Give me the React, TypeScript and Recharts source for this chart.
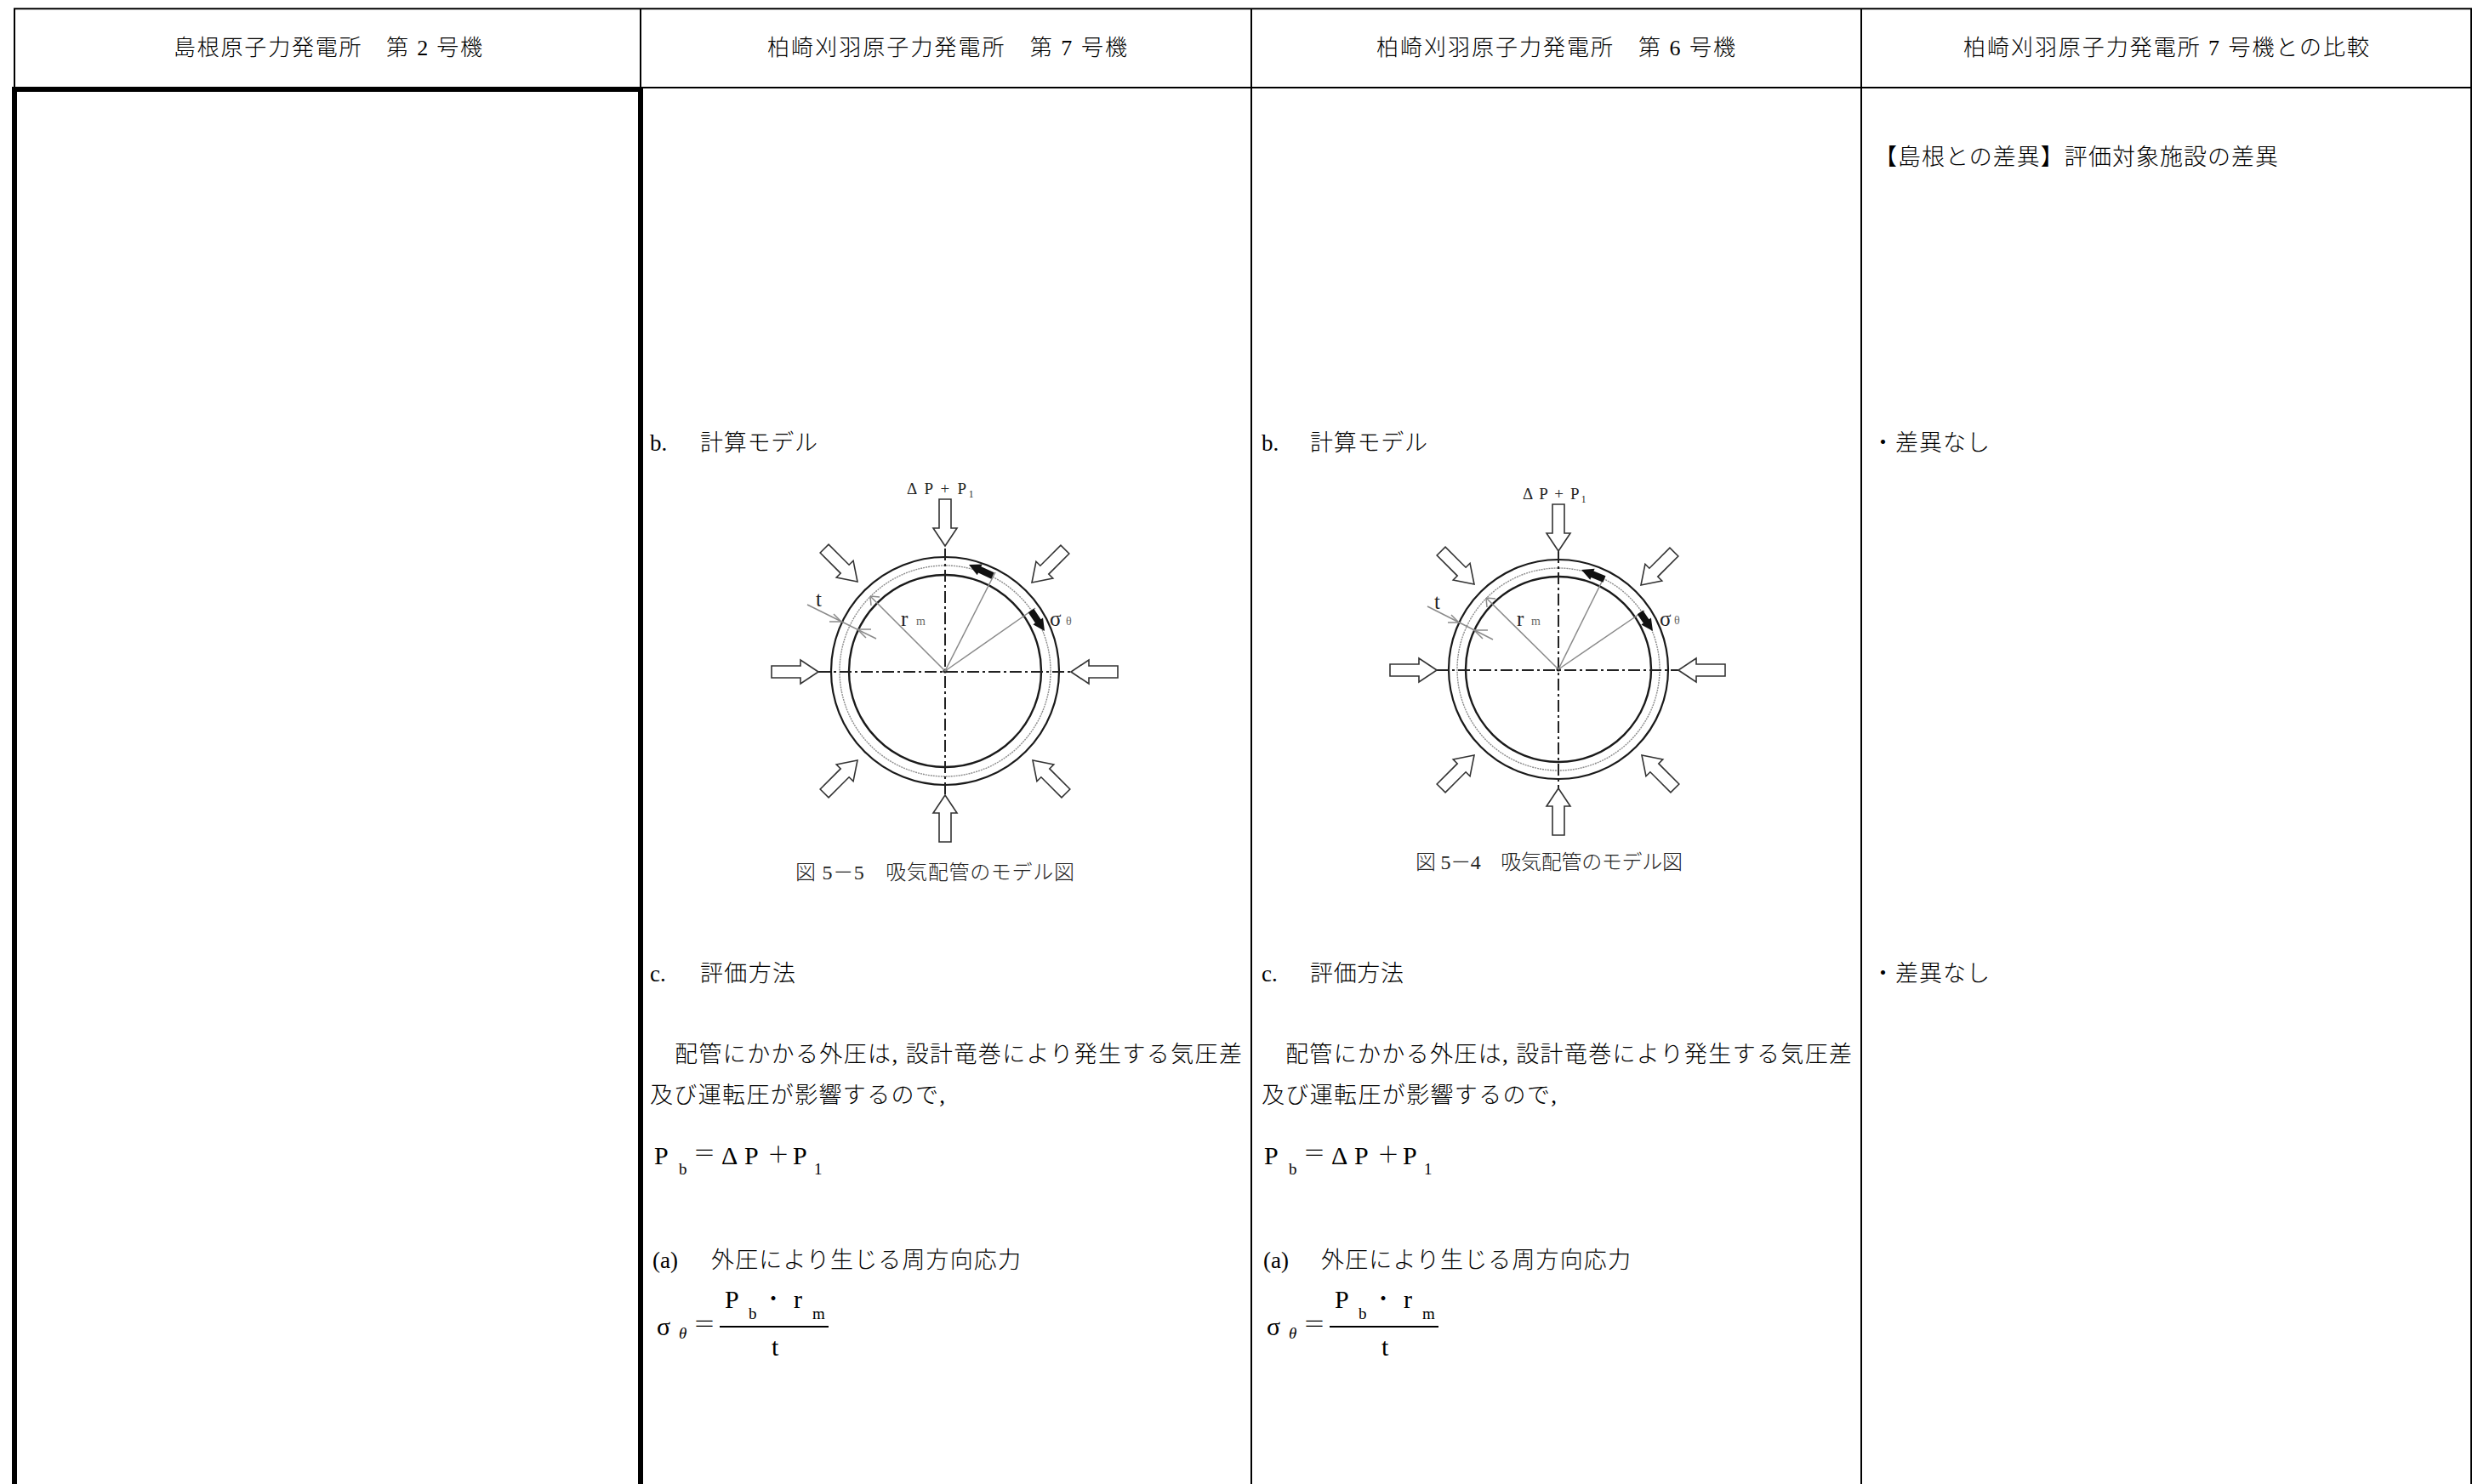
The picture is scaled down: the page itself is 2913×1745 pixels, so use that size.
import { ScatterChart, Scatter, XAxis, YAxis } from 'recharts';

const PAGE_W = 2913;
const PAGE_H = 1745;
const SERIF = '"Liberation Serif", "Noto Sans CJK JP", serif';

type Pt = { x: number; y: number };
type Label = Pt & { x2?: number; text: string };

// table rules, page coordinates
const tableRules: Pt[][] = [
  [{ x: 16, y: 10.3 }, { x: 2906, y: 10.3 }],
  [{ x: 17, y: 103 }, { x: 2905, y: 103 }],
  [{ x: 17, y: 10 }, { x: 17, y: 1745 }],
  [{ x: 753, y: 10 }, { x: 753, y: 1745 }],
  [{ x: 1471, y: 10 }, { x: 1471, y: 1745 }],
  [{ x: 2188, y: 10 }, { x: 2188, y: 1745 }],
  [{ x: 2905, y: 10 }, { x: 2905, y: 1745 }],
];
const heavyFrame: Pt[][] = [
  [{ x: 17, y: 1745 }, { x: 17, y: 105 }, { x: 753, y: 105 }, { x: 753, y: 1745 }],
];

const headerLabels: Label[] = [
  { x: 204, x2: 567, y: 56, text: '島根原子力発電所　第 2 号機' },
  { x: 902, x2: 1325, y: 56, text: '柏崎刈羽原子力発電所　第 7 号機' },
  { x: 1618, x2: 2040, y: 56, text: '柏崎刈羽原子力発電所　第 6 号機' },
  { x: 2308, x2: 2785, y: 56, text: '柏崎刈羽原子力発電所 7 号機との比較' },
];

const bodyLabels: Label[] = [
  { x: 2203, x2: 2678, y: 185, text: '【島根との差異】評価対象施設の差異' },
  { x: 2200, x2: 2339, y: 521, text: '・差異なし' },
  { x: 2200, x2: 2339, y: 1145, text: '・差異なし' },
  { x: 764, y: 521, text: 'b.' },
  { x: 823, x2: 961, y: 521, text: '計算モデル' },
  { x: 1483, y: 521, text: 'b.' },
  { x: 1540, x2: 1678, y: 521, text: '計算モデル' },
  { x: 764, y: 1145, text: 'c.' },
  { x: 823, x2: 935, y: 1145, text: '評価方法' },
  { x: 1483, y: 1145, text: 'c.' },
  { x: 1540, x2: 1650, y: 1145, text: '評価方法' },
  { x: 793, x2: 1460, y: 1240, text: '配管にかかる外圧は, 設計竜巻により発生する気圧差' },
  { x: 1511, x2: 2177, y: 1240, text: '配管にかかる外圧は, 設計竜巻により発生する気圧差' },
  { x: 764, x2: 1111, y: 1288, text: '及び運転圧が影響するので,' },
  { x: 1483, x2: 1830, y: 1288, text: '及び運転圧が影響するので,' },
  { x: 767, y: 1482, text: '(a)' },
  { x: 836, x2: 1200, y: 1482, text: '外圧により生じる周方向応力' },
  { x: 1485, y: 1482, text: '(a)' },
  { x: 1553, x2: 1917, y: 1482, text: '外圧により生じる周方向応力' },
];

// formulas, left copy; the right column repeats them shifted
const formulaMain: Label[] = [
  { x: 769, y: 1358, text: 'P' },
  { x: 848, y: 1358, text: 'Δ' },
  { x: 875, y: 1358, text: 'P' },
  { x: 932, y: 1358, text: 'P' },
  { x: 772, y: 1559, text: 'σ' },
  { x: 852, y: 1527, text: 'P' },
  { x: 933, y: 1527, text: 'r' },
  { x: 907, y: 1583, text: 't' },
];
const formulaSigns: Label[] = [
  { x: 815, y: 1356, text: '＝' },
  { x: 902, y: 1358, text: '＋' },
  { x: 815, y: 1557, text: '＝' },
  { x: 896, y: 1527, text: '・' },
];
const formulaSub: Label[] = [
  { x: 798, y: 1374, text: 'b' },
  { x: 957, y: 1374, text: '1' },
  { x: 880, y: 1544, text: 'b' },
  { x: 955, y: 1544, text: 'm' },
];
const formulaTheta: Label[] = [{ x: 798, y: 1567, text: 'θ' }];
const fractionBar: Pt[] = [{ x: 846, y: 1560 }, { x: 974, y: 1560 }];
const COL_SHIFT = 717;

// model figures
const ringsA = [
  { x: 1111, y: 789, outer: 134, mid: 124, inner: 113 },
];
const ringsB = [
  { x: 1832, y: 787, outer: 129, mid: 119, inner: 109 },
];

const pressureArrowsA = [
  { x: 1111, y: 642, angle: 90 },
  { x: 1111, y: 935, angle: -90 },
  { x: 962, y: 790, angle: 0 },
  { x: 1259, y: 790, angle: 180 },
  { x: 1008, y: 684, angle: 45 },
  { x: 1213, y: 685, angle: 135 },
  { x: 1008, y: 894, angle: -45 },
  { x: 1214, y: 894, angle: -135 },
];
const pressureArrowsB = [
  { x: 1832, y: 648, angle: 90 },
  { x: 1832, y: 927, angle: -90 },
  { x: 1689, y: 788, angle: 0 },
  { x: 1973, y: 788, angle: 180 },
  { x: 1733, y: 687, angle: 45 },
  { x: 1929, y: 688, angle: 135 },
  { x: 1733, y: 888, angle: -45 },
  { x: 1930, y: 888, angle: -135 },
];

const centerLinesA: Pt[][] = [
  [{ x: 962, y: 790 }, { x: 1259, y: 790 }],
  [{ x: 1111, y: 645 }, { x: 1111, y: 935 }],
];
const centerLinesB: Pt[][] = [
  [{ x: 1689, y: 788 }, { x: 1973, y: 788 }],
  [{ x: 1832, y: 648 }, { x: 1832, y: 927 }],
];

const thinLinesA: Pt[][] = [
  [{ x: 1111, y: 789 }, { x: 1023, y: 701 }],
  [{ x: 1023, y: 701 }, { x: 1024, y: 712 }],
  [{ x: 1023, y: 701 }, { x: 1034, y: 702 }],
  [{ x: 1111, y: 789 }, { x: 1170, y: 673 }],
  [{ x: 1111, y: 789 }, { x: 1217, y: 715 }],
  [{ x: 949, y: 711 }, { x: 1030, y: 751 }],
  [{ x: 975, y: 731 }, { x: 989, y: 731 }],
  [{ x: 1008, y: 740 }, { x: 1024, y: 740 }],
  [{ x: 980, y: 722 }, { x: 989, y: 731 }],
  [{ x: 1008, y: 740 }, { x: 1018, y: 750 }],
];
const thinLinesB: Pt[][] = [
  [{ x: 1832, y: 787 }, { x: 1747, y: 703 }],
  [{ x: 1747, y: 703 }, { x: 1748, y: 714 }],
  [{ x: 1747, y: 703 }, { x: 1758, y: 704 }],
  [{ x: 1832, y: 787 }, { x: 1885, y: 680 }],
  [{ x: 1832, y: 787 }, { x: 1933, y: 718 }],
  [{ x: 1678, y: 713 }, { x: 1755, y: 752 }],
  [{ x: 1702, y: 732 }, { x: 1715, y: 732 }],
  [{ x: 1733, y: 741 }, { x: 1749, y: 741 }],
  [{ x: 1706, y: 723 }, { x: 1715, y: 732 }],
  [{ x: 1733, y: 741 }, { x: 1743, y: 751 }],
];

const stressArrowsA = [
  { x: 1139, y: 664, x0: 1167, y0: 677 },
  { x: 1228, y: 742, x0: 1212, y0: 718 },
];
const stressArrowsB = [
  { x: 1859, y: 670, x0: 1886, y0: 681 },
  { x: 1943, y: 742, x0: 1928, y0: 720 },
];

const figureTitles: Label[] = [
  { x: 1066, x2: 1145, y: 574, text: 'Δ P + P₁' },
  { x: 1790, x2: 1865, y: 580, text: 'Δ P + P₁' },
];
const figureSymbols: Label[] = [
  { x: 959, y: 704, text: 't' },
  { x: 1059, y: 727, text: 'r' },
  { x: 1234, y: 727, text: 'σ' },
  { x: 1686, y: 707, text: 't' },
  { x: 1783, y: 727, text: 'r' },
  { x: 1951, y: 727, text: 'σ' },
];
const figureSubs: Label[] = [
  { x: 1077, y: 730, text: 'm' },
  { x: 1253, y: 730, text: 'θ' },
  { x: 1800, y: 730, text: 'm' },
  { x: 1968, y: 729, text: 'θ' },
];
const captions: Label[] = [
  { x: 935, x2: 1263, y: 1026, text: '図 5－5　吸気配管のモデル図' },
  { x: 1664, x2: 1978, y: 1014, text: '図 5－4　吸気配管のモデル図' },
];

const shifted = (rows: Label[]) => rows.map(r => ({ ...r, x: r.x + COL_SHIFT }));
const noDot = () => <g />;

const textShape = (fontSize: number, fill = '#000', fontStyle = 'normal') => (props: any) => {
  const { cx, cy, payload } = props;
  const fit = payload.x2 ? { textLength: payload.x2 - payload.x, lengthAdjust: 'spacing' } : {};
  return (
    <text
      x={cx}
      y={cy}
      fontSize={fontSize}
      fontStyle={fontStyle}
      fontWeight={300}
      fill={fill}
      fontFamily={SERIF}
      dominantBaseline="central"
      {...fit}
    >
      {payload.text}
    </text>
  );
};

const ringShape = (props: any) => {
  const { cx, cy, payload } = props;
  return (
    <g fill="none">
      <circle cx={cx} cy={cy} r={payload.outer} stroke="#1a1a1a" strokeWidth={2.2} />
      <circle cx={cx} cy={cy} r={payload.mid} stroke="#8c8c8c" strokeWidth={1.4} strokeDasharray="2 1" />
      <circle cx={cx} cy={cy} r={payload.inner} stroke="#1a1a1a" strokeWidth={2.4} />
      <circle cx={cx} cy={cy} r={2.5} fill="#111" />
    </g>
  );
};

// hollow block arrow, tip at the data point, pointing along angle
const pressureArrow = (props: any) => {
  const { cx, cy, payload } = props;
  return (
    <polygon
      transform={`translate(${cx} ${cy}) rotate(${payload.angle})`}
      points="0,0 -21,-14 -21,-7 -55,-7 -55,7 -21,7 -21,14"
      fill="#fff"
      stroke="#333"
      strokeWidth={1.6}
    />
  );
};

const stressArrow = (props: any) => {
  const { cx, cy, payload } = props;
  const angle = (Math.atan2(cy - payload.y0, cx - payload.x0) * 180) / Math.PI;
  const len = Math.hypot(cx - payload.x0, cy - payload.y0);
  return (
    <polygon
      transform={`translate(${cx} ${cy}) rotate(${angle})`}
      points={`0,0 -14,-7 -14,-4 ${-len},-4 ${-len},4 -14,4 -14,7`}
      fill="#111"
    />
  );
};

const polyline = (key: string, data: Pt[], stroke: string, strokeWidth: number, dash?: string) => (
  <Scatter
    key={key}
    data={data}
    line={{ stroke, strokeWidth, strokeDasharray: dash }}
    shape={noDot}
    isAnimationActive={false}
  />
);

const labels = (key: string, data: Label[], fontSize: number, fill?: string, fontStyle?: string) => (
  <Scatter key={key} data={data} shape={textShape(fontSize, fill, fontStyle)} isAnimationActive={false} />
);

export default function App() {
  return (
    <div style={{ position: 'absolute', left: 0, top: 0, width: PAGE_W, height: PAGE_H, background: '#fff' }}>
      <ScatterChart width={PAGE_W} height={PAGE_H} margin={{ top: 0, right: 0, bottom: 0, left: 0 }}>
        <XAxis type="number" dataKey="x" domain={[0, PAGE_W]} hide />
        <YAxis type="number" dataKey="y" domain={[0, PAGE_H]} reversed hide />

        {tableRules.map((r, i) => polyline(`rule${i}`, r, '#000', 2))}
        {heavyFrame.map((r, i) => polyline(`heavy${i}`, r, '#000', 6))}

        {labels('header', headerLabels, 26)}
        {labels('body', bodyLabels, 27)}

        <Scatter data={ringsA} shape={ringShape} isAnimationActive={false} />
        <Scatter data={ringsB} shape={ringShape} isAnimationActive={false} />
        {centerLinesA.map((r, i) => polyline(`clA${i}`, r, '#222', 2, '14 4 3 4'))}
        {centerLinesB.map((r, i) => polyline(`clB${i}`, r, '#222', 2, '14 4 3 4'))}
        {thinLinesA.map((r, i) => polyline(`thinA${i}`, r, '#8a8a8a', 1.5))}
        {thinLinesB.map((r, i) => polyline(`thinB${i}`, r, '#8a8a8a', 1.5))}
        <Scatter data={pressureArrowsA} shape={pressureArrow} isAnimationActive={false} />
        <Scatter data={pressureArrowsB} shape={pressureArrow} isAnimationActive={false} />
        <Scatter data={stressArrowsA} shape={stressArrow} isAnimationActive={false} />
        <Scatter data={stressArrowsB} shape={stressArrow} isAnimationActive={false} />

        {labels('titles', figureTitles, 19, '#222')}
        {labels('symbols', figureSymbols, 25, '#222')}
        {labels('subs', figureSubs, 14, '#666')}
        {labels('captions', captions, 24, '#222')}

        {labels('fmA', formulaMain, 30)}
        {labels('fmB', shifted(formulaMain), 30)}
        {labels('fsgA', formulaSigns, 26)}
        {labels('fsgB', shifted(formulaSigns), 26)}
        {labels('fsA', formulaSub, 19)}
        {labels('fsB', shifted(formulaSub), 19)}
        {labels('thA', formulaTheta, 19, undefined, 'italic')}
        {labels('thB', shifted(formulaTheta), 19, undefined, 'italic')}
        {polyline('barA', fractionBar, '#000', 2)}
        {polyline('barB', shifted(fractionBar as Label[]), '#000', 2)}
      </ScatterChart>
    </div>
  );
}
